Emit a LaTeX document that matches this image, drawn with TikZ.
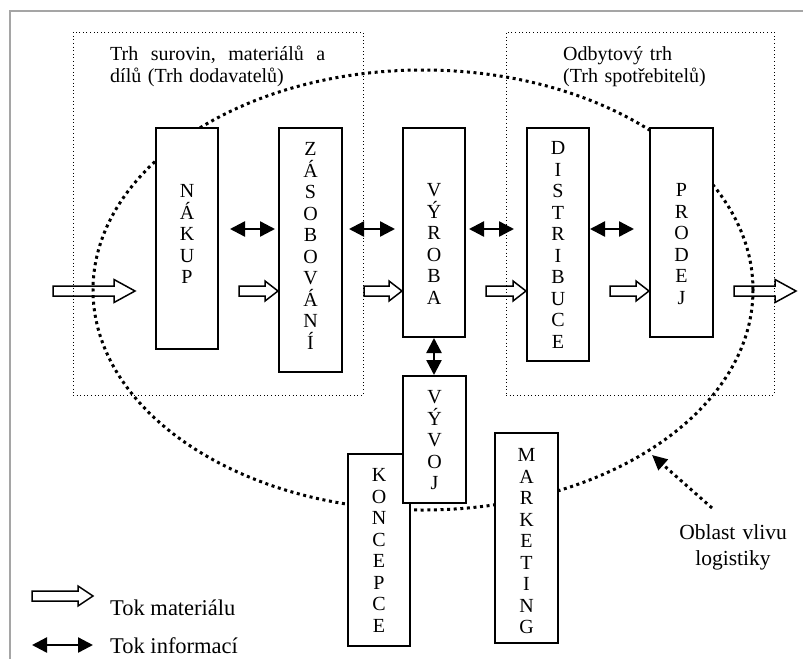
\documentclass[tikz,border=0pt]{standalone}
\usepackage{fontspec}
\setmainfont{Liberation Serif}
\usetikzlibrary{arrows.meta,calc}
\definecolor{framegray}{RGB}{165,165,165}
\newcommand\stk[1]{\vtop{\baselineskip=21.5pt\lineskiplimit=-50pt\lineskip=0pt\halign{\hfil##\hfil\cr#1\crcr}}}
\newcommand\matarr[4]{\draw[matline] let \p1=(#1), \p2=(#2) in (\x1,\y1+5pt) -- (\x2-#3,\y1+5pt) -- (\x2-#3,\y1+#4) -- (\x2,\y1) -- (\x2-#3,\y1-#4) -- (\x2-#3,\y1-5pt) -- (\x1,\y1-5pt) -- cycle;}
\begin{document}
\begin{tikzpicture}[x=1pt,y=-1pt,
  box/.style={draw=black, line width=2pt, fill=white, inner sep=0pt},
  dotbox/.style={draw=black, line width=0.9pt, dash pattern=on 0.9pt off 2.7pt, inner sep=0pt},
  matline/.style={draw=black, line width=1.5pt, line join=miter},
  tipI/.tip={Triangle[length=15pt,width=15pt]},
  info/.style={line width=2.4pt, tipI-tipI},
  elli/.style={line width=3pt, dash pattern=on 3pt off 3.6pt},
  lett/.style={anchor=base, inner sep=0pt, font=\fontsize{20}{21.5}\selectfont},
  lbl/.style={inner sep=0pt, font=\fontsize{20}{22}\selectfont},
]
\useasboundingbox (0,0) rectangle (803,659);
\draw[framegray, line width=2pt] (803,11) -| (10,659);

% market areas
\node[dotbox, minimum width=290pt, minimum height=363pt] (mleft) at (218,213.5) {};
\node[dotbox, minimum width=268pt, minimum height=363pt] (mright) at (640,213.5) {};
\node[lbl, anchor=base west, text width=215pt, align=left] (tleft) at (110,60)
  {Trh \hfill surovin, \hfill materiálů \hfill a\\dílů (Trh dodavatelů)};
\node[lbl, anchor=base west, text width=200pt, align=left] (tright) at (563,60)
  {Odbytový trh\\(Trh spotřebitelů)};

% area of logistics influence
\draw[elli] (423,290) ellipse [x radius=330pt, y radius=220pt];

% function boxes
\node[box, minimum width=62pt, minimum height=221pt] (nakup) at (187,238.5) {};
\node[box, minimum width=63pt, minimum height=244pt] (zas) at (310.5,250) {};
\node[box, minimum width=62pt, minimum height=209pt] (vyroba) at (434,232.5) {};
\node[box, minimum width=62pt, minimum height=233pt] (distr) at (558,244.5) {};
\node[box, minimum width=63pt, minimum height=209pt] (prodej) at (681.5,232.5) {};
\node[box, minimum width=62pt, minimum height=192pt] (koncepce) at (379,550) {};
\node[box, minimum width=63pt, minimum height=127pt] (vyvoj) at (434.5,439.5) {};
\node[box, minimum width=63pt, minimum height=210pt] (marketing) at (526.5,538) {};

\node[lett] (tnakup) at (187,197.6) {\stk{N\cr Á\cr K\cr U\cr P}};
\node[lett] (tzas) at (310.5,155.6) {\stk{Z\cr Á\cr S\cr O\cr B\cr O\cr V\cr Á\cr N\cr Í}};
\node[lett] (tvyroba) at (434,196.6) {\stk{V\cr Ý\cr R\cr O\cr B\cr A}};
\node[lett] (tdistr) at (558,154.6) {\stk{D\cr I\cr S\cr T\cr R\cr I\cr B\cr U\cr C\cr E}};
\node[lett] (tprodej) at (681.5,196.6) {\stk{P\cr R\cr O\cr D\cr E\cr J}};
\node[lett] (tvyvoj) at (434.5,403.6) {\stk{V\cr Ý\cr V\cr O\cr J}};
\node[lett] (tkoncepce) at (379,481.6) {\stk{K\cr O\cr N\cr C\cr E\cr P\cr C\cr E}};
\node[lett] (tmarketing) at (526.5,461.6) {\stk{M\cr A\cr R\cr K\cr E\cr T\cr I\cr N\cr G}};

% material flow
\coordinate (min) at (53,291);
\coordinate (mout) at (796,291);
\matarr{min}{[xshift=-20pt]nakup.west |- min}{21pt}{11.5pt}
\matarr{[xshift=20pt]nakup.east |- min}{zas.west |- min}{13pt}{10pt}
\matarr{[xshift=21pt]zas.east |- min}{vyroba.west |- min}{13pt}{10pt}
\matarr{[xshift=20pt]vyroba.east |- min}{distr.west |- min}{13pt}{10pt}
\matarr{[xshift=20pt]distr.east |- min}{prodej.west |- min}{13pt}{10pt}
\matarr{[xshift=20pt]prodej.east |- min}{mout}{21pt}{11.5pt}

% information flow
\coordinate (iy) at (0,229);
\draw[info] ([xshift=11pt]nakup.east |- iy) -- ([xshift=-3pt]zas.west |- iy);
\draw[info] ([xshift=6pt]zas.east |- iy) -- ([xshift=-7pt]vyroba.west |- iy);
\draw[info] ([xshift=3pt]vyroba.east |- iy) -- ([xshift=-12pt]distr.west |- iy);
\draw[info] (distr.east |- iy) -- ([xshift=-15pt]prodej.west |- iy);
\draw[info] (vyroba.south) -- (vyroba.south |- vyvoj.north);

% label of the ellipse
\node[lbl, anchor=base, text width=140pt, align=center, font=\fontsize{21.5}{26}\selectfont] (oblast) at (733,539) {Oblast vlivu\\logistiky};
\coordinate (ostart) at (712,508);
\coordinate (etip) at (652,455);
\draw[elli, -{Triangle[length=15pt,width=14pt]}] (ostart) -- (etip);

% legend
\coordinate (lm1) at (32,596);
\coordinate (lm2) at (93,596);
\matarr{lm1}{lm2}{15pt}{10pt}
\node[lbl, anchor=base west, font=\fontsize{22.5}{26}\selectfont] (lmat) at (110,615) {Tok materiálu};
\coordinate (li1) at (32,645);
\coordinate (li2) at (93,645);
\draw[info] (li1) -- (li2);
\node[lbl, anchor=base west, font=\fontsize{22.5}{26}\selectfont] (linf) at (110,653) {Tok informací};
\end{tikzpicture}
\end{document}
